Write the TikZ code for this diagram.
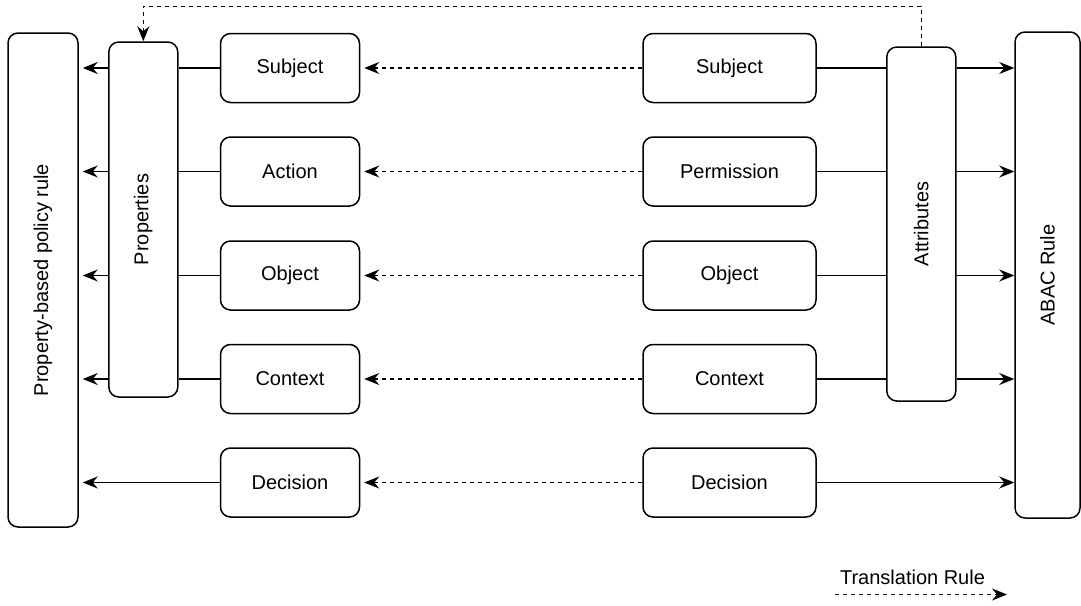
\documentclass[tikz,border=0pt]{standalone}
\usepackage{fontspec}
\setmainfont{Liberation Sans}
\usetikzlibrary{arrows.meta}

\begin{document}
\begin{tikzpicture}[x=1pt,y=-1pt]
		\tikzstyle{every node}+=[inner sep=0pt, font=\fontsize{20}{24}\selectfont]
		\tikzstyle{box}=[draw, line width=1.5pt, rounded corners=10pt]
		\tikzstyle{leftbox}=[box, minimum width=139pt, minimum height=69pt]
		\tikzstyle{rightbox}=[box, minimum width=173pt, minimum height=69pt]
		\tikzstyle{link}=[line width=1.5pt]
		\tikzstyle{arr}=[link, -{Stealth[length=15pt, width=12pt, inset=5pt]}]
		\tikzstyle{trans}=[arr, dash pattern=on 4pt off 4pt]
		\useasboundingbox (0,0) rectangle (1081,605);
		\node [box, minimum width=70pt, minimum height=494pt] (pbr) at (43,280) {\rotatebox{90}{Property-based policy rule}};
		\node [box, minimum width=69pt, minimum height=355pt] (prop) at (143.3,219.5) {\rotatebox{90}{Properties}};
		\node [box, minimum width=69pt, minimum height=354pt] (attr) at (921.3,224) {\rotatebox{90}{Attributes}};
		\node [box, minimum width=65pt, minimum height=486pt] (abac) at (1047.5,275) {\rotatebox{90}{ABAC Rule}};
		\node [leftbox] (lsub) at (290,68) {Subject};
		\node [leftbox] (lact) at (290,171.5) {Action};
		\node [leftbox] (lobj) at (290,275.5) {Object};
		\node [leftbox] (lctx) at (290,379) {Context};
		\node [leftbox] (ldec) at (290,482.5) {Decision};
		\node [rightbox] (rsub) at (729.5,68) {Subject};
		\node [rightbox] (rper) at (729.5,171.5) {Permission};
		\node [rightbox] (robj) at (729.5,275.5) {Object};
		\node [rightbox] (rctx) at (729.5,379) {Context};
		\node [rightbox] (rdec) at (729.5,482.5) {Decision};
		\draw [trans] (rsub.west) -- (lsub.east) [shorten >=4pt];
		\draw [trans] (rper.west) -- (lact.east) [shorten >=4pt];
		\draw [trans] (robj.west) -- (lobj.east) [shorten >=4pt];
		\draw [trans] (rctx.west) -- (lctx.east) [shorten >=4pt];
		\draw [trans] (rdec.west) -- (ldec.east) [shorten >=4pt];
		\draw [link] (lsub.west) -- (lsub -| prop.east);
		\draw [link] (lact.west) -- (lact -| prop.east);
		\draw [link] (lobj.west) -- (lobj -| prop.east);
		\draw [link] (lctx.west) -- (lctx -| prop.east);
		\draw [arr, shorten >=4pt] (lsub -| prop.west) -- (lsub -| pbr.east);
		\draw [arr, shorten >=4pt] (lact -| prop.west) -- (lact -| pbr.east);
		\draw [arr, shorten >=4pt] (lobj -| prop.west) -- (lobj -| pbr.east);
		\draw [arr, shorten >=4pt] (lctx -| prop.west) -- (lctx -| pbr.east);
		\draw [arr, shorten >=4pt] (ldec.west) -- (ldec -| pbr.east);
		\draw [link] (rsub.east) -- (rsub -| attr.west);
		\draw [link] (rper.east) -- (rper -| attr.west);
		\draw [link] (robj.east) -- (robj -| attr.west);
		\draw [link] (rctx.east) -- (rctx -| attr.west);
		\draw [arr] (rsub -| attr.east) -- (rsub -| abac.west);
		\draw [arr] (rper -| attr.east) -- (rper -| abac.west);
		\draw [arr] (robj -| attr.east) -- (robj -| abac.west);
		\draw [arr] (rctx -| attr.east) -- (rctx -| abac.west);
		\draw [arr] (rdec.east) -- (rdec -| abac.west);
		\draw [trans] (attr.north) -- ++(0,-40) -| (prop.north);
		\node (legtext) at (912.5,577) {Translation Rule};
		\coordinate (legstart) at (835,594.5);
		\coordinate (legend) at (1007,594.5);
		\draw [trans] (legstart) -- (legend);
	\end{tikzpicture}
\end{document}
